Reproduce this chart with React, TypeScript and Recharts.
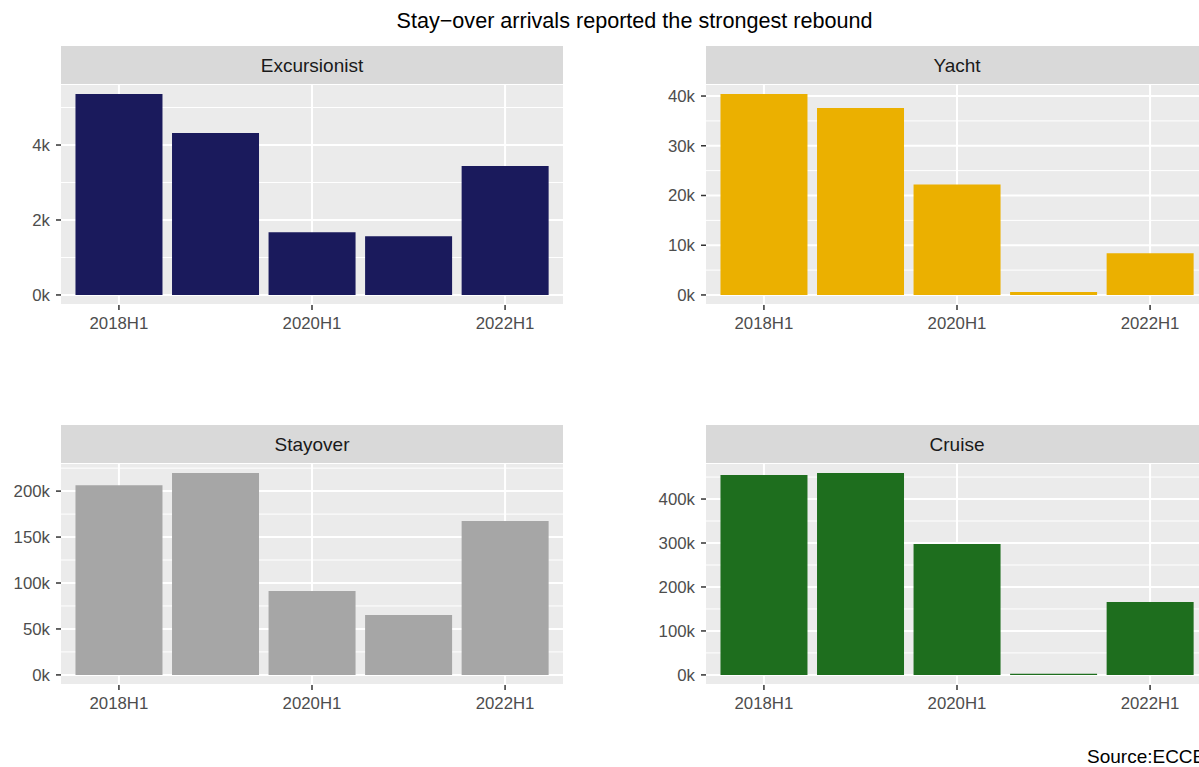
import React from "react";
import { BarChart, Bar, XAxis, YAxis, CartesianGrid, ReferenceLine } from "recharts";

// half-year periods on the x axis
const periods = ["2018H1", "2019H1", "2020H1", "2021H1", "2022H1"];
const labelledPeriods = ["2018H1", "2020H1", "2022H1"];

// arrivals per category
const excursionist = [5360, 4320, 1670, 1565, 3440];
const yacht = [40400, 37600, 22200, 600, 8400];
const stayover = [206500, 219600, 91300, 65200, 167400];
const cruise = [454500, 459000, 297700, 2500, 166000];

// major y breaks per panel
const excursionistTicks = [0, 2000, 4000];
const yachtTicks = [0, 10000, 20000, 30000, 40000];
const stayoverTicks = [0, 50000, 100000, 150000, 200000];
const cruiseTicks = [0, 100000, 200000, 300000, 400000];

const FONT = '"Liberation Sans", Arial, Helvetica, sans-serif';
const PANEL_W = 502;
const AXIS_W = 61;

type PanelProps = {
  title: string;
  values: number[];
  ticks: number[];
  color: string;
  left: number;
  top: number;
  plotH: number;
};

function Panel({ title, values, ticks, color, left, top, plotH }: PanelProps) {
  const data = periods.map((p, i) => ({ period: p, value: values[i] }));
  const max = Math.max(...values);
  const lo = -0.05 * max;
  const hi = 1.05 * max;
  const step = ticks[1] - ticks[0];
  const minors = ticks
    .map((t) => t + step / 2)
    .concat([ticks[0] - step / 2])
    .filter((v) => v > lo && v < hi);
  // ggplot discrete expansion: 0.6 of a unit each side
  const pad = (PANEL_W * 0.1) / 5.2;

  return (
    <>
      <div
        style={{
          position: "absolute",
          left: left + AXIS_W,
          top: top - 38,
          width: PANEL_W,
          height: 38,
          boxSizing: "border-box",
          paddingTop: 2,
          background: "#D9D9D9",
          color: "#1A1A1A",
          fontSize: 19,
          display: "flex",
          alignItems: "center",
          justifyContent: "center",
        }}
      >
        {title}
      </div>
      <div style={{ position: "absolute", left, top }}>
        <BarChart
          width={AXIS_W + PANEL_W}
          height={plotH + 40}
          data={data}
          margin={{ top: 0, right: 0, bottom: 0, left: 0 }}
          barCategoryGap="5%"
        >
          <CartesianGrid
            fill="#EBEBEB"
            stroke="#FFFFFF"
            strokeWidth={2}
            vertical={false}
          />
          {minors.map((m) => (
            <ReferenceLine key={"m" + m} y={m} stroke="#FFFFFF" strokeWidth={1} zIndex={-50} />
          ))}
          {labelledPeriods.map((p) => (
            <ReferenceLine key={p} x={p} stroke="#FFFFFF" strokeWidth={2} zIndex={-50} />
          ))}
          <XAxis
            dataKey="period"
            interval={1}
            height={40}
            padding={{ left: pad, right: pad }}
            axisLine={false}
            tickLine={{ stroke: "#333333", strokeWidth: 1.5 }}
            tickSize={5}
            tickMargin={7}
            tick={{ fill: "#4D4D4D", fontSize: 16.8 }}
          />
          <YAxis
            type="number"
            domain={[lo, hi]}
            ticks={ticks}
            allowDataOverflow
            width={AXIS_W}
            axisLine={false}
            tickLine={{ stroke: "#333333", strokeWidth: 1.5 }}
            tickSize={5}
            tickMargin={6}
            tick={{ fill: "#4D4D4D", fontSize: 16.8 }}
            tickFormatter={(v: number) => `${Math.round(v / 1000)}k`}
          />
          <Bar dataKey="value" fill={color} isAnimationActive={false} />
        </BarChart>
      </div>
    </>
  );
}

export default function App() {
  return (
    <div
      style={{
        position: "absolute",
        left: 0,
        top: 0,
        width: 1199,
        height: 767,
        overflow: "hidden",
        background: "#FFFFFF",
        fontFamily: FONT,
      }}
    >
      <div
        style={{
          position: "absolute",
          left: AXIS_W,
          top: 10,
          width: 1147,
          textAlign: "center",
          fontSize: 21.6,
          lineHeight: "21.6px",
          color: "#000000",
        }}
      >
        Stay−over arrivals reported the strongest rebound
      </div>
      <Panel title="Excursionist" values={excursionist} ticks={excursionistTicks} color="#1A1A5C" left={0} top={84} plotH={221} />
      <Panel title="Yacht" values={yacht} ticks={yachtTicks} color="#EBB000" left={645} top={84} plotH={221} />
      <Panel title="Stayover" values={stayover} ticks={stayoverTicks} color="#A6A6A6" left={0} top={463} plotH={222} />
      <Panel title="Cruise" values={cruise} ticks={cruiseTicks} color="#1E6E1E" left={645} top={463} plotH={222} />
      <div
        style={{
          position: "absolute",
          left: 1087,
          top: 747,
          fontSize: 19,
          lineHeight: "19px",
          color: "#000000",
          whiteSpace: "nowrap",
        }}
      >
        Source:ECCB
      </div>
    </div>
  );
}
